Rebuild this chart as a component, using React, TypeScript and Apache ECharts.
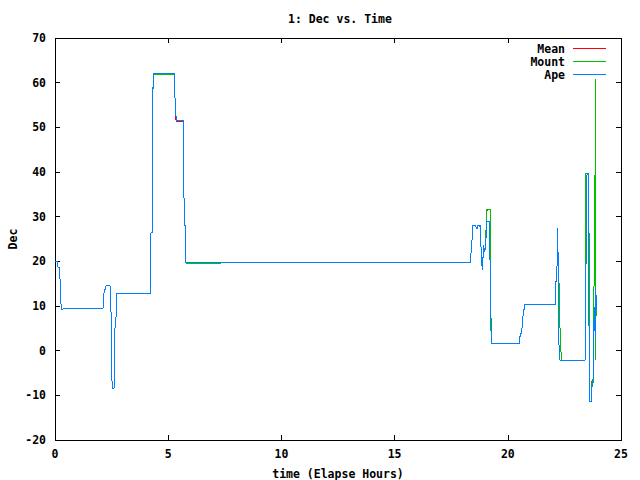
import React, { useEffect, useRef } from "react";
import * as echarts from "echarts";

const xTicks = [0, 5, 10, 15, 20, 25];
const yTicks = [-20, -10, 0, 10, 20, 30, 40, 50, 60, 70];
const seriesNames = ["Mean", "Mount", "Ape"];
const seriesColors = ["#ff0000", "#00c000", "#0080ff"];

const leftPart: number[][] = [
  [0, 20], [0.12, 20], [0.13, 18.7], [0.2, 18.7], [0.22, 16.2], [0.24, 16.2], [0.25, 11.7], [0.27, 11.7],
  [0.28, 9.3], [0.36, 9.3], [0.37, 9.5], [2.13, 9.5], [2.14, 11.7], [2.17, 11.7], [2.18, 13.7], [2.22, 13.7],
  [2.24, 14.5], [2.43, 14.5], [2.44, 8.7], [2.48, 8.7], [2.49, -2.7], [2.52, -2.7], [2.53, -8.4], [2.61, -8.4],
  [2.62, -3.0], [2.65, -3.0], [2.66, 7.5], [2.7, 7.5], [2.71, 12.7], [4.2, 12.7], [4.21, 13.7], [4.23, 13.7],
  [4.24, 26.4], [4.29, 26.4], [4.3, 50.1], [4.33, 50.1],
];

const apeTail: number[][] = [
  [4.34, 62.1], [5.27, 62.1], [5.28, 59.5], [5.31, 59.5], [5.32, 54.1], [5.35, 54.1], [5.36, 51.6], [5.67, 51.6],
  [5.68, 43.8], [5.7, 43.8], [5.71, 28.1], [5.75, 28.1], [5.76, 19.8], [18.36, 19.8], [18.37, 21.9], [18.41, 21.9],
  [18.43, 28.1], [18.58, 28.1], [18.62, 27.3], [18.66, 27.3], [18.68, 28.1], [18.74, 28.1], [18.76, 27.7], [18.78, 28.1],
  [18.81, 28.1], [18.83, 21.5], [18.87, 18.1], [18.9, 20.3], [18.93, 23.6], [18.98, 22.0], [19.02, 23.5], [19.08, 29],
  [19.18, 29], [19.2, 24.0], [19.25, 11.3], [19.27, 1.65], [20.51, 1.65], [20.52, 3.1], [20.56, 3.1], [20.57, 3.9],
  [20.61, 3.9], [20.62, 4.6], [20.65, 4.6], [20.66, 7.1], [20.69, 7.1], [20.7, 9.3], [20.74, 9.3], [20.75, 10.4],
  [22.11, 10.4], [22.12, 11.3], [22.13, 15.8], [22.17, 15.8], [22.18, 23.4], [22.2, 27.4], [22.22, 21.5], [22.24, 5.4],
  [22.27, -0.2], [22.3, -2.1], [23.42, -2.1], [23.43, 8.0], [23.46, 8.0], [23.5, 39.7], [23.55, 39.7], [23.57, 27],
  [23.6, -11], [23.63, -11.4], [23.7, -11.4], [23.71, -8.1], [23.76, -7.6], [23.78, -1], [23.82, 9.85], [23.86, 3],
  [23.89, 14], [23.91, 9],
];

const mountTail: number[][] = [
  [4.34, 61.8], [5.27, 61.8], [5.28, 59.5], [5.31, 59.5], [5.32, 54.1], [5.35, 54.1], [5.36, 51.6], [5.67, 51.6],
  [5.68, 43.8], [5.7, 43.8], [5.71, 28.1], [5.75, 28.1], [5.77, 19.6], [18.36, 19.8], [18.37, 21.9], [18.41, 21.9],
  [18.43, 28.1], [18.58, 28.1], [18.62, 27.3], [18.66, 27.3], [18.68, 28.1], [18.74, 28.1], [18.76, 27.7], [18.78, 28.1],
  [18.81, 28.1], [18.83, 21.5], [18.87, 18.1], [18.9, 20.3], [18.93, 23.6], [18.98, 22.0], [19.03, 24], [19.05, 31.6],
  [19.22, 31.6], [19.24, 9.1], [19.27, 1.65], [20.51, 1.65], [20.52, 3.1], [20.56, 3.1], [20.57, 3.9], [20.61, 3.9],
  [20.62, 4.6], [20.65, 4.6], [20.66, 7.1], [20.69, 7.1], [20.7, 9.3], [20.74, 9.3], [20.75, 10.4], [22.11, 10.4],
  [22.12, 11.3], [22.13, 15.8], [22.17, 15.8], [22.18, 23.4], [22.2, 21.8], [22.25, 20.3], [22.27, 11.6], [22.3, 5.4],
  [22.33, 3.5], [22.36, -2.1], [23.42, -2.1], [23.44, 8.3], [23.45, 39.7], [23.58, 39.7], [23.6, 1.5], [23.6, -11],
  [23.63, -11.4], [23.7, -11.4], [23.7, -7.2], [23.77, -7.2], [23.8, 9.85], [23.86, 43.8], [23.865, 60.8], [23.87, 43.8],
  [23.87, -2.1], [23.9, 9],
];

const meanTail: number[][] = [
  [4.34, 62.1], [5.27, 62.1], [5.28, 59.5], [5.31, 59.5], [5.32, 54.1], [5.34, 54.1], [5.35, 51.3], [5.66, 51.3],
  [5.68, 43.8], [5.7, 43.8], [5.71, 28.1], [5.75, 28.1], [5.76, 19.8], [18.36, 19.8], [18.37, 21.9], [18.41, 21.9],
  [18.43, 28.1], [18.58, 28.1], [18.62, 27.3], [18.66, 27.3], [18.68, 28.1], [18.74, 28.1], [18.76, 27.7], [18.78, 28.1],
  [18.81, 28.1], [18.83, 21.5], [18.87, 18.1], [18.9, 20.3], [18.93, 23.6], [18.98, 22.0], [19.03, 24], [19.05, 31.4],
  [19.22, 31.6], [19.24, 9.1], [19.27, 1.65], [20.51, 1.65], [20.52, 3.1], [20.55, 3.5], [20.57, 3.9], [20.61, 3.9],
  [20.62, 4.6], [20.65, 4.6], [20.66, 7.1], [20.69, 7.1], [20.7, 9.3], [20.74, 9.3], [20.75, 10.4], [22.11, 10.4],
  [22.12, 11.3], [22.13, 15.5], [22.17, 15.8], [22.18, 23.4], [22.2, 21.8], [22.25, 20.3], [22.27, 11.6], [22.3, 5.4],
  [22.33, 3.5], [22.36, -2.1], [23.42, -2.1], [23.43, 8.0], [23.46, 8.0], [23.5, 39.7], [23.55, 39.7], [23.57, 27],
  [23.6, -11], [23.63, -11.4], [23.7, -11.4], [23.7, -7.0], [23.77, -7.0], [23.8, 9.85], [23.86, 43.8], [23.875, 43.8],
  [23.87, -2.1], [23.9, 9],
];

const meanPoints = [...leftPart, ...meanTail];
const mountPoints = [...leftPart, ...mountTail];
const apePoints = [...leftPart, ...apeTail];
const allPoints = [meanPoints, mountPoints, apePoints];

const FONT = '"DejaVu Sans Mono", "Liberation Mono", monospace';

export default function App() {
  const ref = useRef<HTMLDivElement>(null);
  useEffect(() => {
    if (!ref.current) return;
    const chart = echarts.init(ref.current, null, { renderer: "svg" });
    const textBase = { fontFamily: FONT, fontWeight: "bold" as const, fontSize: 11.5, color: "#000" };
    const legendGraphics: any[] = [];
    seriesNames.forEach((n, i) => {
      const y = 49 + i * 13;
      legendGraphics.push({
        type: "text",
        id: "lt" + i,
        x: 565,
        y: y,
        z: 100,
        style: { text: n, fill: "#000", font: `bold 11.5px ${FONT}`, align: "right", verticalAlign: "middle" },
      });
      legendGraphics.push({
        type: "line",
        id: "ll" + i,
        z: 100,
        shape: { x1: 573, y1: y - 0.5, x2: 606, y2: y - 0.5 },
        style: { stroke: seriesColors[i], lineWidth: 1 },
      });
    });
    const tickCommon = { show: true, inside: true, length: 5, lineStyle: { color: "#000", width: 1 } };
    chart.setOption({
      animation: false,
      backgroundColor: "#fff",
      color: seriesColors,
      title: {
        text: "1: Dec vs. Time",
        left: 283,
        top: 8,
        textStyle: { ...textBase },
      },
      grid: {
        left: 55, right: 19, top: 38, bottom: 40, show: true, borderColor: "#000", borderWidth: 1,
        backgroundColor: "transparent", containLabel: false, outerBoundsMode: "none",
      },
      xAxis: [
        {
          type: "value",
          min: xTicks[0],
          max: xTicks[xTicks.length - 1],
          interval: 5,
          name: "time (Elapse Hours)",
          nameLocation: "middle",
          nameGap: 28,
          nameMoveOverlap: false,
          nameTextStyle: { ...textBase },
          axisLine: { show: true, onZero: false, lineStyle: { color: "#000" } },
          axisTick: tickCommon,
          axisLabel: { ...textBase, margin: 8 },
          splitLine: { show: false },
        },
        {
          type: "value",
          position: "top",
          min: xTicks[0],
          max: xTicks[xTicks.length - 1],
          interval: 5,
          axisLine: { show: true, onZero: false, lineStyle: { color: "#000" } },
          axisTick: tickCommon,
          axisLabel: { show: false },
          splitLine: { show: false },
        },
      ],
      yAxis: [
        {
          type: "value",
          min: yTicks[0],
          max: yTicks[yTicks.length - 1],
          interval: 10,
          name: "Dec",
          nameLocation: "middle",
          nameGap: 36,
          nameMoveOverlap: false,
          nameRotate: 90,
          nameTextStyle: { ...textBase },
          axisLine: { show: true, onZero: false, lineStyle: { color: "#000" } },
          axisTick: tickCommon,
          axisLabel: { ...textBase, margin: 9 },
          splitLine: { show: false },
        },
        {
          type: "value",
          position: "right",
          min: yTicks[0],
          max: yTicks[yTicks.length - 1],
          interval: 10,
          axisLine: { show: true, onZero: false, lineStyle: { color: "#000" } },
          axisTick: tickCommon,
          axisLabel: { show: false },
          splitLine: { show: false },
        },
      ],
      series: allPoints.map((pts, i) => ({
        name: seriesNames[i],
        type: "line",
        data: pts,
        showSymbol: false,
        symbol: "none",
        xAxisIndex: 0,
        yAxisIndex: 0,
        lineStyle: { color: seriesColors[i], width: 1 },
        itemStyle: { color: seriesColors[i] },
      })),
      graphic: legendGraphics,
    });
    return () => chart.dispose();
  }, []);
  return (
    <>
      <style>{`.dec-chart svg path { shape-rendering: crispEdges; }`}</style>
      <div className="dec-chart" ref={ref} style={{ position: "fixed", left: 0, top: 0, width: 640, height: 480 }} />
    </>
  );
}
